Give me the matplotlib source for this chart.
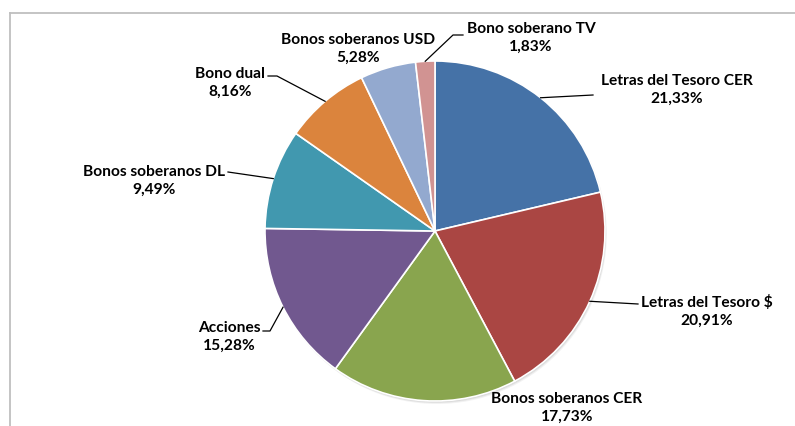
import numpy as np
import matplotlib.pyplot as plt
from matplotlib.patches import Circle

# =============================
#  Data
# =============================
labels = ["Letras del Tesoro CER", "Letras del Tesoro $", "Bonos soberanos CER",
          "Acciones", "Bonos soberanos DL", "Bono dual",
          "Bonos soberanos USD", "Bono soberano TV"]
values = [21.33, 20.91, 17.73, 15.28, 9.49, 8.16, 5.28, 1.83]
colors = ["#4572A7", "#AA4643", "#89A54E", "#71588F",
          "#4198AF", "#DB843D", "#93A9CF", "#D19392"]

# =============================
#  Layout (pixels, origin top-left)
# =============================
W, H = 795, 427
CX, CY, R = 435, 232, 170
label_pos = [(677, 90), (707, 311), (567, 408), (229, 337),
             (154, 181), (230, 83), (358, 49), (531, 38)]
leader_pts = [[(593, 96)], [(638, 305)], None, [(270, 332), (263, 332)],
              [(228, 173)], [(277, 77), (268, 77)], None, [(453, 36), (463, 36)]]


def flip(p):
    return (p[0], H - p[1])


fig = plt.figure(figsize=(W / 100, H / 100), dpi=100)
ax = fig.add_axes([0, 0, 1, 1])
ax.set_xlim(0, W)
ax.set_ylim(0, H)
ax.axis("off")

# frame (cut at right / bottom like the source)
ax.plot([10, W + 5], [H - 14, H - 14], color="#BFBFBF", lw=1.3, zorder=1)
ax.plot([10, 10], [H - 14, -5], color="#BFBFBF", lw=1.3, zorder=1)

# soft shadow
for k, a in [(3.0, 0.10), (2.0, 0.15), (1.0, 0.2)]:
    ax.add_patch(Circle((CX + k * 0.6, H - CY - k), R, color="#808080",
                        alpha=a, lw=0, zorder=2))

wedges, _ = ax.pie(values, colors=colors, startangle=90, counterclock=False,
                   center=(CX, H - CY), radius=R, frame=True,
                   wedgeprops=dict(edgecolor="white", linewidth=1.2, zorder=3))
ax.set_xlim(0, W)
ax.set_ylim(0, H)
ax.set_aspect("equal")
ax.axis("off")

for i, w in enumerate(wedges):
    w.set_zorder(3)
    txt = f"{labels[i]}\n{values[i]:.2f}%".replace(".", ",")
    x, y = flip(label_pos[i])
    t = ax.text(x, y, txt, ha="center", va="center", multialignment="center",
                fontsize=11.2, fontweight="bold", family="Lato",
                linespacing=1.35, color="black", zorder=5)
    t.set_path_effects([])
    if leader_pts[i] is not None:
        mid = np.radians((w.theta1 + w.theta2) / 2)
        ex, ey = CX + R * np.cos(mid), (H - CY) + R * np.sin(mid)
        xs = [ex] + [p[0] for p in leader_pts[i]]
        ys = [ey] + [H - p[1] for p in leader_pts[i]]
        ax.plot(xs, ys, color="black", lw=0.9, zorder=4)

fig.savefig("out.png", dpi=100)
